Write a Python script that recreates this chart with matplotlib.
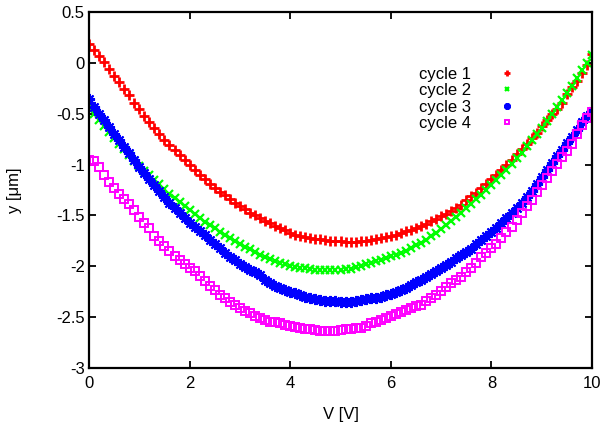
import numpy as np
import matplotlib
matplotlib.use("Agg")
import matplotlib.pyplot as plt

plt.rcParams['font.family'] = ['Liberation Sans', 'DejaVu Sans']

# ---- data ----
voltage = [round(0.1 * i, 1) for i in range(101)]

cycle1 = [0.19, 0.13, 0.07, 0.01, -0.06, -0.125, -0.19, -0.255, -0.32, -0.39,
          -0.455, -0.52, -0.58, -0.64, -0.70, -0.755, -0.81, -0.86, -0.91, -0.955,
          -1.005, -1.055, -1.10, -1.145, -1.19, -1.23, -1.266, -1.30, -1.34, -1.375,
          -1.406, -1.44, -1.472, -1.50, -1.53, -1.555, -1.578, -1.60, -1.62, -1.645,
          -1.67, -1.69, -1.70, -1.712, -1.72, -1.728, -1.735, -1.742, -1.748, -1.752,
          -1.755, -1.757, -1.758, -1.758, -1.756, -1.75, -1.742, -1.733, -1.724, -1.714,
          -1.703, -1.688, -1.672, -1.656, -1.64, -1.623, -1.605, -1.58, -1.555, -1.532,
          -1.508, -1.483, -1.456, -1.43, -1.395, -1.345, -1.31, -1.275, -1.235, -1.19,
          -1.14, -1.10, -1.055, -1.005, -0.955, -0.90, -0.845, -0.795, -0.74, -0.685,
          -0.625, -0.565, -0.505, -0.45, -0.39, -0.31, -0.24, -0.18, -0.10, -0.02,
          0.09]

cycle2 = [-0.44, -0.50, -0.56, -0.62, -0.68, -0.74, -0.795, -0.85, -0.905, -0.96,
          -1.01, -1.06, -1.105, -1.15, -1.195, -1.24, -1.285, -1.325, -1.365, -1.405,
          -1.445, -1.49, -1.525, -1.56, -1.593, -1.626, -1.659, -1.692, -1.724, -1.752,
          -1.78, -1.806, -1.832, -1.86, -1.885, -1.907, -1.927, -1.946, -1.964, -1.98,
          -1.993, -2.004, -2.014, -2.021, -2.027, -2.032, -2.036, -2.038, -2.038, -2.037,
          -2.034, -2.03, -2.023, -2.008, -1.997, -1.98, -1.964, -1.95, -1.937, -1.92,
          -1.902, -1.885, -1.868, -1.845, -1.82, -1.795, -1.77, -1.74, -1.705, -1.67,
          -1.633, -1.595, -1.555, -1.515, -1.475, -1.43, -1.385, -1.34, -1.295, -1.25,
          -1.20, -1.15, -1.10, -1.05, -0.995, -0.94, -0.885, -0.82, -0.755, -0.70,
          -0.64, -0.575, -0.50, -0.435, -0.37, -0.295, -0.225, -0.15, -0.075, 0.0,
          0.08]

cycle3 = [-0.36, -0.43, -0.50, -0.565, -0.63, -0.695, -0.76, -0.825, -0.89, -0.955,
          -1.02, -1.08, -1.14, -1.20, -1.26, -1.32, -1.375, -1.43, -1.48, -1.525,
          -1.57, -1.61, -1.655, -1.695, -1.74, -1.78, -1.823, -1.865, -1.905, -1.942,
          -1.977, -2.008, -2.036, -2.06, -2.085, -2.13, -2.167, -2.195, -2.216, -2.233,
          -2.249, -2.266, -2.284, -2.30, -2.315, -2.325, -2.332, -2.337, -2.341, -2.345,
          -2.347, -2.348, -2.348, -2.344, -2.334, -2.323, -2.315, -2.307, -2.298, -2.285,
          -2.27, -2.255, -2.235, -2.21, -2.185, -2.158, -2.13, -2.105, -2.08, -2.05,
          -2.015, -1.99, -1.96, -1.92, -1.89, -1.86, -1.828, -1.785, -1.745, -1.705,
          -1.662, -1.62, -1.575, -1.53, -1.48, -1.43, -1.375, -1.315, -1.255, -1.19,
          -1.12, -1.05, -0.985, -0.92, -0.855, -0.79, -0.725, -0.66, -0.585, -0.52,
          -0.47]

cycle4 = [-0.955, -0.96, -1.02, -1.10, -1.17, -1.23, -1.29, -1.335, -1.39, -1.45,
          -1.515, -1.57, -1.62, -1.70, -1.752, -1.80, -1.85, -1.90, -1.94, -1.975,
          -2.015, -2.05, -2.095, -2.14, -2.19, -2.235, -2.28, -2.315, -2.347, -2.38,
          -2.413, -2.438, -2.462, -2.487, -2.511, -2.53, -2.544, -2.552, -2.56, -2.574,
          -2.587, -2.596, -2.604, -2.612, -2.62, -2.627, -2.633, -2.635, -2.636, -2.635,
          -2.63, -2.62, -2.612, -2.61, -2.61, -2.59, -2.56, -2.543, -2.527, -2.505,
          -2.485, -2.468, -2.452, -2.43, -2.41, -2.395, -2.378, -2.345, -2.312, -2.28,
          -2.245, -2.205, -2.163, -2.13, -2.105, -2.06, -2.02, -1.97, -1.91, -1.865,
          -1.825, -1.78, -1.725, -1.665, -1.61, -1.545, -1.48, -1.41, -1.345, -1.27,
          -1.20, -1.13, -1.06, -0.995, -0.93, -0.865, -0.795, -0.70, -0.61, -0.54,
          -0.48]

labels = ["cycle 1", "cycle 2", "cycle 3", "cycle 4"]
xticks = [0, 2, 4, 6, 8, 10]
xtick_labels = ["0", "2", "4", "6", "8", "10"]
yticks = [0.5, 0, -0.5, -1, -1.5, -2, -2.5, -3]
ytick_labels = ["0.5", "0", "-0.5", "-1", "-1.5", "-2", "-2.5", "-3"]

# ---- figure ----
fig = plt.figure(figsize=(6.0, 4.25), dpi=100)
ax = fig.add_axes([89 / 600, 1 - 368 / 425, 503 / 600, 356 / 425])

series = [cycle1, cycle2, cycle3, cycle4]
styles = [
    dict(marker='+', color='#ff0000', ms=7, mew=2.0),
    dict(marker='x', color='#00ff00', ms=6, mew=1.6),
    dict(marker=(8, 2, 0), color='#0000ff', ms=8, mew=1.5),
    dict(marker='s', color='#ff00ff', ms=6, mew=1.4, mfc='none'),
]
for ys, lab, st in zip(series, labels, styles):
    ax.plot(voltage, ys, linestyle='none', label=lab, **st)

ax.set_xlim(0, 10)
ax.set_ylim(-3, 0.5)
ax.set_xticks(xticks)
ax.set_xticklabels(xtick_labels)
ax.set_yticks(yticks)
ax.set_yticklabels(ytick_labels)
ax.tick_params(direction='in', length=5, width=1.3, top=True, right=True,
               labelsize=12, colors='black')
ax.tick_params(axis='x', pad=6)
ax.tick_params(axis='y', pad=3)
for sp in ax.spines.values():
    sp.set_linewidth(1.6)

ax.set_xlabel("V [V]", fontsize=12)
ax.set_ylabel("y [μm]", fontsize=12)
ax.xaxis.set_label_coords(0.5, (368 - 407) / 356)
ax.yaxis.set_label_coords((22 - 89) / 503, 0.5)

leg = ax.legend(loc='upper right', bbox_to_anchor=((543 - 89) / 503, (368 - 52) / 356),
                markerfirst=False, frameon=False, fontsize=12, labelspacing=0.08,
                handlelength=2.5, handletextpad=0.9, markerscale=0.6, borderpad=0.4)

fig.savefig("out.png", dpi=100)
